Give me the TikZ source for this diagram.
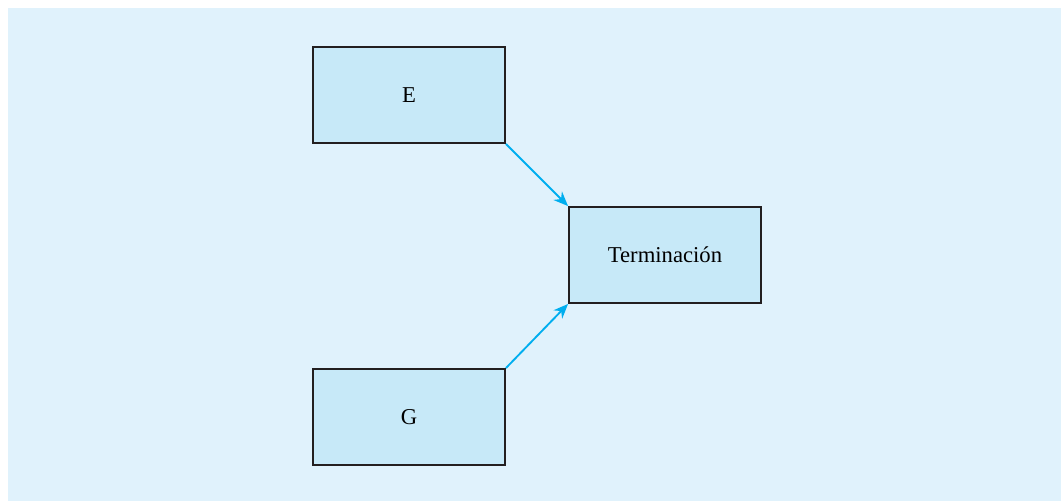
\documentclass[tikz,border=0pt]{standalone}
\usepackage{fontspec}
\setmainfont{Liberation Serif}
\usetikzlibrary{arrows.meta}

\definecolor{bgblue}{RGB}{224,242,252}
\definecolor{boxblue}{RGB}{199,233,248}
\definecolor{edgegray}{RGB}{35,31,32}
\definecolor{arrowcyan}{RGB}{0,174,239}

\begin{document}
\begin{tikzpicture}[
    x=0.75pt, y=-0.75pt,
    task/.style={draw=edgegray, fill=boxblue, line width=1.4pt,
                 minimum width=144pt, minimum height=72pt, inner sep=0pt,
                 align=center, font=\fontsize{17}{20}\selectfont},
    link/.style={draw=arrowcyan, line width=1.4pt,
                 -{Stealth[length=11pt, width=9pt]}}
]

% --- Background ---
\useasboundingbox (0,0) rectangle (1061,501);
\fill[bgblue] (8,8) rectangle (1061,501);

% --- Activities ---
\node[task] (E) at (409, 95)  {E};
\node[task] (G) at (409, 417) {G};
\node[task] (T) at (665, 255) {Terminación};

% --- Arrows ---
\draw[link] (E.south east) -- (T.north west);
\draw[link] (G.north east) -- (T.south west);

\end{tikzpicture}
\end{document}
